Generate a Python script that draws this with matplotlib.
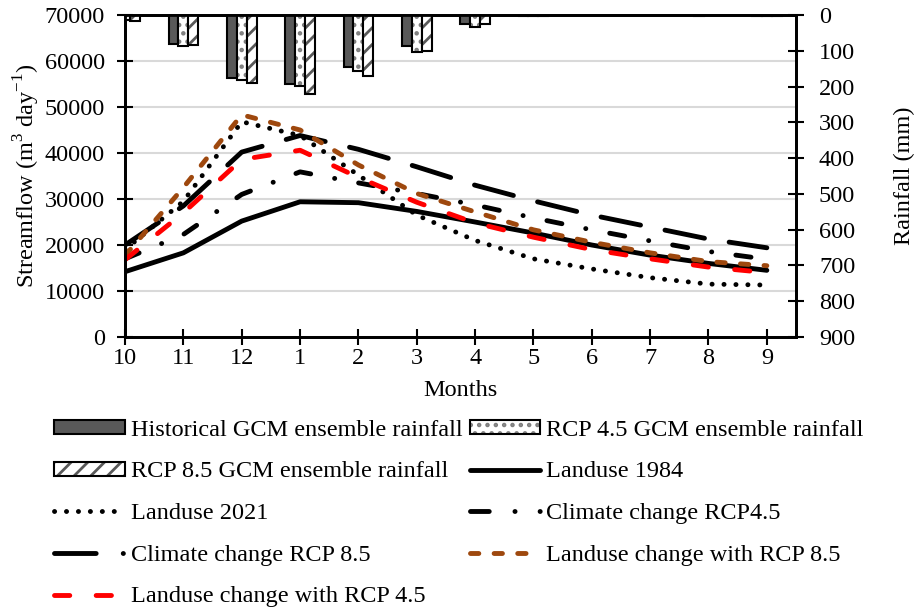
import matplotlib
matplotlib.use("Agg")
import matplotlib.pyplot as plt
from matplotlib.patches import Patch
from matplotlib.lines import Line2D
from matplotlib.legend_handler import HandlerTuple

plt.rcParams['font.family'] = ['Liberation Serif', 'DejaVu Serif']
plt.rcParams['font.size'] = 17.5
plt.rcParams['lines.scale_dashes'] = False
plt.rcParams['hatch.linewidth'] = 2.0
plt.rcParams['mathtext.fontset'] = 'custom'
plt.rcParams['mathtext.rm'] = 'Liberation Serif'

months = ["10", "11", "12", "1", "2", "3", "4", "5", "6", "7", "8", "9"]

# rainfall (mm)
rain_hist = [12, 82, 175, 194, 144, 88, 25, 4, 1, 1, 2, 2]
rain_rcp45 = [14, 87, 182, 198, 156, 104, 33, 3, 1, 1, 1, 2]
rain_rcp85 = [18, 84, 189, 222, 170, 102, 25, 3, 1, 1, 1, 2]

# streamflow (m3/day)
lu_1984 = [14200, 18300, 25200, 29400, 29200, 27300, 25000, 22600, 20000, 17800, 16000, 14500]
lu_2021 = [19000, 29500, 46800, 43800, 35200, 26500, 21000, 17000, 14800, 12900, 11500, 11300]
cc_rcp45 = [17000, 22300, 31000, 35900, 33500, 31200, 28700, 25900, 23300, 20900, 18600, 16900]
cc_rcp85 = [20000, 28500, 40200, 43800, 40800, 37000, 33000, 29600, 26500, 23900, 21300, 19400]
lc_rcp85 = [17700, 32500, 48300, 45000, 37400, 31200, 27200, 23300, 20600, 18300, 16400, 15500]
lc_rcp45 = [16800, 27000, 38600, 40600, 34700, 29300, 24800, 21700, 19000, 17000, 15200, 14000]

x = list(range(len(months)))

fig, ax = plt.subplots(figsize=(9.14, 6.12), dpi=100)
fig.subplots_adjust(left=0.1368, right=0.8709, top=0.9755, bottom=0.4493)

ax.set_axisbelow(True)
ax.grid(axis='y', color='#d9d9d9', lw=1.5)

lw = 3.5
l1, = ax.plot(x, lu_1984, color='black', lw=lw, solid_capstyle='round')
l2, = ax.plot(x, lu_2021, color='black', lw=lw, linestyle=(0, (0.1, 8.5)),
              dash_capstyle='round')
ax.plot(x, cc_rcp45, color='black', lw=lw, linestyle=(0, (11, 17.5, 0.1, 17.5)),
        dash_capstyle='round')
ax.plot(x, cc_rcp85, color='black', lw=lw, linestyle=(0, (29, 18)),
        dash_capstyle='round')
l5, = ax.plot(x, lc_rcp85, color='#9E480E', lw=lw, linestyle=(0, (6, 11)),
              dash_capstyle='round')
l6, = ax.plot(x, lc_rcp45, color='#FF0000', lw=lw, linestyle=(0, (11, 19)),
              dash_capstyle='round')

# legend keys for the dash-dot lines
l3 = Line2D([], [], color='black', lw=lw, linestyle=(0, (13.5, 18.5, 0.1, 18, 0.1, 20)),
            dash_capstyle='round')
l4 = Line2D([], [], color='black', lw=lw, linestyle=(0, (30, 19.5, 0.1, 20)),
            dash_capstyle='round')

ax.set_xlim(0, 11.5)
ax.set_ylim(0, 70000)
ax.set_yticks(range(0, 70001, 10000))
ax.set_xticks(x)
ax.set_xticklabels(months)
ax.set_xlabel("Months", labelpad=8)
ax.set_ylabel("Streamflow (m$^{3}$ day$^{-1}$)", labelpad=2)

ax2 = ax.twinx()
w = 0.17
xh = [i - w for i in x]
xm = x
xr = [i + w for i in x]
ax2.bar(xh, rain_hist, width=w, color='#595959', edgecolor='black', lw=1.5)
ax2.bar(xm, rain_rcp45, width=w, color='white', edgecolor='#7f7f7f', hatch='..', lw=0)
ax2.bar(xm, rain_rcp45, width=w, fill=False, edgecolor='black', lw=1.5)
ax2.bar(xr, rain_rcp85, width=w, color='white', edgecolor='#595959', hatch='//', lw=0)
ax2.bar(xr, rain_rcp85, width=w, fill=False, edgecolor='black', lw=1.5)
ax2.set_ylim(900, 0)
ax2.set_yticks(range(0, 901, 100))
ax2.set_ylabel("Rainfall (mm)", labelpad=28)

for a in (ax, ax2):
    for s in a.spines.values():
        s.set_linewidth(2)
    a.tick_params(direction='inout', length=12, width=1.5, labelsize=17.5)
ax.tick_params(axis='x', pad=2)
ax.tick_params(axis='y', pad=8.5)
ax2.tick_params(axis='y', pad=10.5)

h_hist = Patch(facecolor='#595959', edgecolor='black', lw=1.5)
h45 = (Patch(facecolor='white', edgecolor='#7f7f7f', hatch='..', lw=0),
       Patch(fill=False, edgecolor='black', lw=1.5))
h85 = (Patch(facecolor='white', edgecolor='#595959', hatch='//', lw=0),
       Patch(fill=False, edgecolor='black', lw=1.5))

handles = [h_hist, h85, l2, l4, l6, h45, l1, l3, l5]
labels = ["Historical GCM ensemble rainfall", "RCP 8.5 GCM ensemble rainfall",
          "Landuse 2021", "Climate change RCP 8.5", "Landuse change with RCP 4.5",
          "RCP 4.5 GCM ensemble rainfall", "Landuse 1984", "Climate change RCP4.5",
          "Landuse change with RCP 8.5"]
fig.legend(handles, labels, ncol=2, loc='upper center', bbox_to_anchor=(0.502, 0.334),
           frameon=False, fontsize=17.5, handlelength=2.9, handleheight=0.5,
           handletextpad=0.25, columnspacing=0.3, labelspacing=0.85, borderpad=0,
           handler_map={tuple: HandlerTuple(ndivide=1, pad=0)})

plt.savefig("out.png", dpi=100)
plt.close()
